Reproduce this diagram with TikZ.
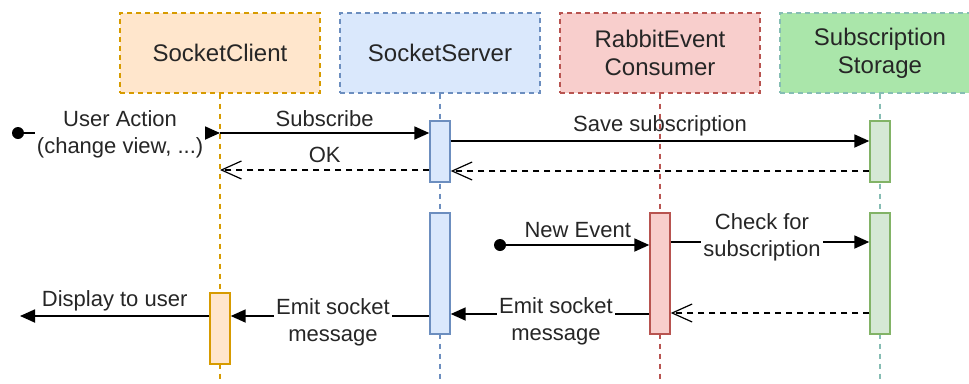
\documentclass[tikz,border=0pt]{standalone}
\usepackage{fontspec}
\setmainfont{Liberation Sans}
\usetikzlibrary{arrows.meta}
\definecolor{oF}{HTML}{FFE6CC}\definecolor{oS}{HTML}{D79B00}
\definecolor{bF}{HTML}{DAE8FC}\definecolor{bS}{HTML}{6C8EBF}
\definecolor{rF}{HTML}{F8CECC}\definecolor{rS}{HTML}{B85450}
\definecolor{gHF}{HTML}{AAE6AA}\definecolor{gHS}{HTML}{86BDB4}
\definecolor{gF}{HTML}{D5E8D4}\definecolor{gS}{HTML}{82B366}
\definecolor{txt}{HTML}{262626}
\tikzset{
  header/.style={draw, line width=1.3pt, dash pattern=on 5pt off 4pt, minimum width=200pt, minimum height=80pt, inner sep=0pt, align=center, text=txt, font=\fontsize{24}{28}\selectfont},
  life/.style={line width=1.3pt, dash pattern=on 5pt off 5pt},
  act/.style={draw, line width=1.4pt, minimum width=20pt, inner sep=0pt},
  lbl/.style={font=\fontsize{22}{27}\selectfont, text=txt, inner sep=1pt, align=center},
  lblw/.style={lbl, fill=white, inner sep=2pt},
  msg/.style={line width=1.8pt, -{Triangle[length=15pt,width=13pt]}},
  ret/.style={line width=1.3pt, dash pattern=on 6pt off 5pt, -{Straight Barb[length=20pt,width=18pt,line width=1.2pt]}},
  dot/.style={circle, fill=black, inner sep=0pt, minimum size=12pt}
}
\begin{document}
\begin{tikzpicture}[x=1pt,y=-1pt]
\useasboundingbox (0,0) rectangle (969,383);
% headers
\node[header, fill=oF, draw=oS] (hc) at (220,53) {SocketClient};
\node[header, fill=bF, draw=bS] (hs) at (440,53) {SocketServer};
\node[header, fill=rF, draw=rS] (hr) at (660,53) {RabbitEvent\\Consumer};
\node[header, fill=gHF, draw=gHS] (hg) at (880,53) {Subscription\\Storage};
% lifeline ends
\coordinate (ec) at (220,383);
\coordinate (es) at (440,383);
\coordinate (er) at (660,383);
\coordinate (eg) at (880,383);
\draw[life, oS] (hc.south) -- (ec);
\draw[life, bS] (hs.south) -- (es);
\draw[life, rS] (hr.south) -- (er);
\draw[life, gHS] (hg.south) -- (eg);
% activations
\node[act, fill=bF, draw=bS, minimum height=61pt] (a1) at (440,151.5) {};
\node[act, fill=gF, draw=gS, minimum height=61pt] (b1) at (880,151.5) {};
\node[act, fill=bF, draw=bS, minimum height=121pt] (a2) at (440,273.5) {};
\node[act, fill=rF, draw=rS, minimum height=121pt] (r2) at (660,273.5) {};
\node[act, fill=gF, draw=gS, minimum height=121pt] (b2) at (880,273.5) {};
\node[act, fill=oF, draw=oS, minimum height=71pt] (c2) at (220,328.5) {};
% start points
\node[dot] (d1) at (18,133) {};
\node[dot] (d2) at (500,245) {};
\coordinate (cu) at (220,133);
\coordinate (cok) at (220,170);
\coordinate (disp) at (20,316);
% messages
\draw[msg] (d1) -- (cu) node[lblw, midway, xshift=-2pt, yshift=-1pt] {User Action\\(change view, ...)};
\draw[msg] (cu) -- (a1.west |- cu) node[lbl, midway, above=4pt] {Subscribe};
\draw[msg] (a1.east |- 0,141) -- (b1.west |- 0,141) node[lbl, midway, above=3pt] {Save subscription};
\draw[ret] (b1.west |- 0,171) -- (a1.east |- 0,171);
\draw[ret] (a1.west |- cok) -- (cok) node[lbl, midway, above=6pt] {OK};
\draw[msg] (d2) -- (r2.west |- d2) node[lbl, midway, above=5pt] {New Event};
\draw[msg] (r2.east |- 0,242) -- (b2.west |- 0,242) node[lblw, midway, xshift=-8pt, yshift=5pt] {Check for\\subscription};
\draw[ret] (b2.west |- 0,313) -- (r2.east |- 0,313);
\draw[msg] (r2.west |- 0,314) -- (a2.east |- 0,314) node[lblw, midway, xshift=6pt, yshift=-7pt] {Emit socket\\message};
\draw[msg] (a2.west |- 0,316) -- (c2.east |- 0,316) node[lblw, midway, xshift=3pt, yshift=-6pt] {Emit socket\\message};
\draw[msg] (c2.west |- disp) -- (disp) node[lbl, midway, above=3pt] {Display to user};
\end{tikzpicture}
\end{document}
